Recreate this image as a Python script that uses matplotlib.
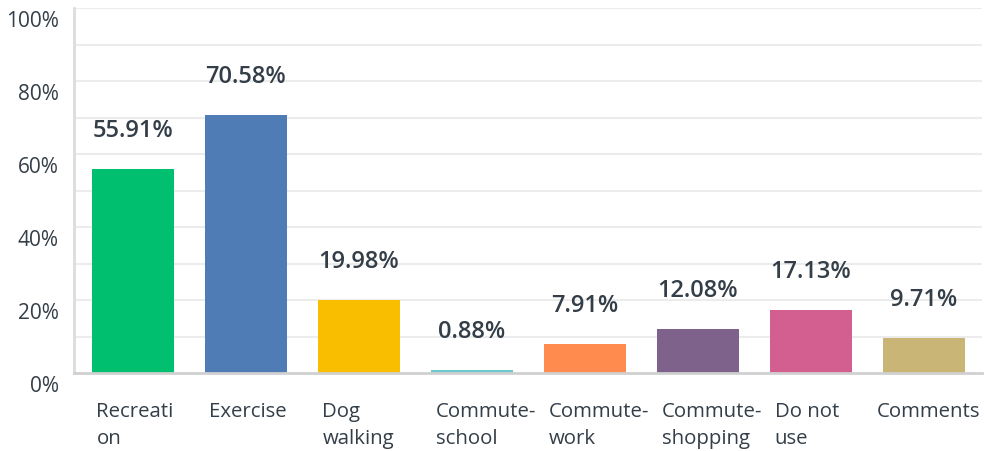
import numpy as np
import matplotlib.pyplot as plt
from matplotlib.transforms import ScaledTranslation

# survey answers: what the trail is used for
categories = ["Recreati\non", "Exercise", "Dog\nwalking", "Commute-\nschool",
              "Commute-\nwork", "Commute-\nshopping", "Do not\nuse", "Comments"]
percents = [55.91, 70.58, 19.98, 0.88, 7.91, 12.08, 17.13, 9.71]
bar_colors = ["#00bf6f", "#507cb6", "#f9be00", "#6bc8cd",
              "#ff8b4f", "#7f628b", "#d25f90", "#c9b677"]
y_ticks = [0, 20, 40, 60, 80, 100]

text_color = "#333e48"
plt.rcParams["font.family"] = ["Open Sans", "DejaVu Sans"]

fig = plt.figure(figsize=(9.85, 4.51), dpi=100)
ax = fig.add_axes([74 / 985, 78 / 451, 908 / 985, 365 / 451])

x = np.arange(len(categories))
width = 0.726
bars = ax.bar(x, percents, width=width, color=bar_colors, zorder=3)

for rect, val in zip(bars, percents):
    ax.annotate("{:.2f}%".format(val),
                (rect.get_x() + rect.get_width() / 2, rect.get_height()),
                xytext=(0, 38), textcoords="offset pixels",
                ha="center", va="center", fontsize=17, fontweight="semibold",
                color=text_color)

ax.set_xlim(-0.522, len(categories) - 0.487)
ax.set_ylim(0, 100)

# light grid every 10%
for g in range(10, 101, 10):
    ax.axhline(g, color="#ececec", lw=1.5, zorder=1)

ax.set_yticks(y_ticks)
ax.set_yticklabels(["{}%".format(t) for t in y_ticks], fontsize=15, color=text_color)
ax.tick_params(axis="y", length=0, pad=11)
shift = ScaledTranslation(0, -11 / 100, fig.dpi_scale_trans)
for lab in ax.get_yticklabels():
    lab.set_transform(lab.get_transform() + shift)

ax.set_xticks(x - width / 2 + 0.04)
ax.set_xticklabels(categories, fontsize=14.7, color=text_color, ha="left",
                   linespacing=1.45, va="top")
ax.tick_params(axis="x", length=0, pad=21)
# last label is pulled left so it stays inside the figure
last = ax.get_xticklabels()[-1]
last.set_transform(last.get_transform() + ScaledTranslation(-11 / 100, 0, fig.dpi_scale_trans))

for side in ["top", "right"]:
    ax.spines[side].set_visible(False)
ax.spines["left"].set_color("#dcdcdc")
ax.spines["left"].set_linewidth(2)
ax.spines["bottom"].set_color("#d0d0d0")
ax.spines["bottom"].set_linewidth(2)
ax.spines["bottom"].set_zorder(4)

fig.savefig("out.png", dpi=100)
